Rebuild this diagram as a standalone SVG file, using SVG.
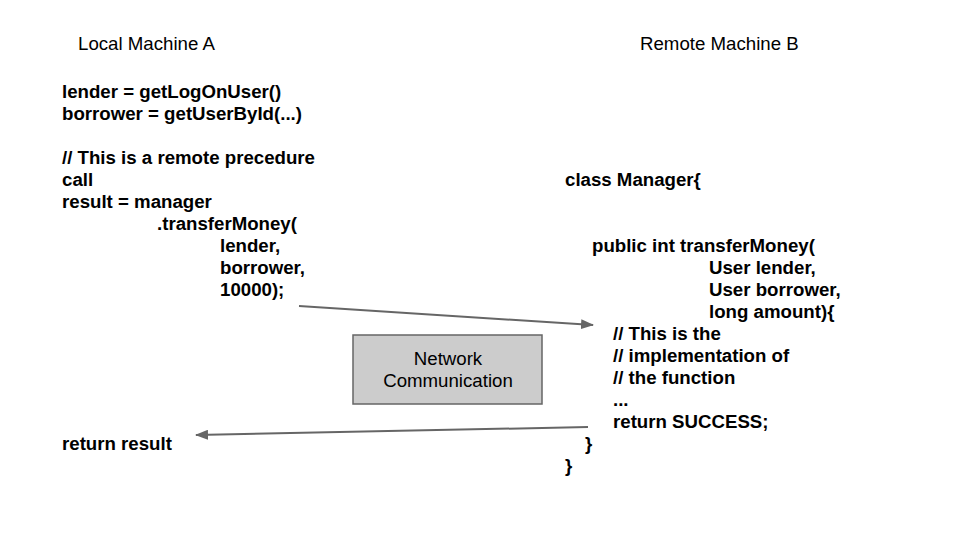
<svg xmlns="http://www.w3.org/2000/svg" width="960" height="540" viewBox="0 0 960 540">
<style>
.t{font-family:"Liberation Sans",Arial,sans-serif;font-size:18.67px;fill:#000}
.b{font-weight:bold}
.c{stroke:#666;stroke-width:2;fill:none}
</style>
<defs>
<marker id="ah" viewBox="0 0 13 10" refX="12" refY="5" markerWidth="6.5" markerHeight="5" orient="auto" markerUnits="strokeWidth">
<path d="M0,0 L13,5 L0,10 z" fill="#666"/>
</marker>
</defs>
<rect width="960" height="540" fill="#fff"/>
<g id="title-a"><text class="t" x="78" y="50">Local Machine A</text></g>
<g id="title-b"><text class="t" x="640" y="50">Remote Machine B</text></g>
<g id="local-code" class="t b">
<text x="62" y="98">lender = getLogOnUser()</text>
<text x="62" y="120">borrower = getUserById(...)</text>
<text x="62" y="164">// This is a remote precedure</text>
<text x="62" y="186">call</text>
<text x="62" y="208">result = manager</text>
<text x="157" y="230">.transferMoney(</text>
<text x="220" y="252">lender,</text>
<text x="220" y="274">borrower,</text>
<text x="220" y="296">10000);</text>
<text x="62" y="450">return result</text>
</g>
<g id="remote-code" class="t b">
<text x="565" y="186">class Manager{</text>
<text x="592" y="252">public int transferMoney(</text>
<text x="709" y="274">User lender,</text>
<text x="709" y="296">User borrower,</text>
<text x="709" y="318">long amount){</text>
<text x="613" y="340">// This is the</text>
<text x="613" y="362">// implementation of</text>
<text x="613" y="384">// the function</text>
<text x="613" y="406">...</text>
<text x="613" y="428">return SUCCESS;</text>
<text x="585" y="450">}</text>
<text x="565" y="472">}</text>
</g>
<g id="network">
<rect x="353" y="335" width="189" height="69" fill="#ccc" stroke="#666" stroke-width="1.5"/>
<text class="t" x="448" y="365" text-anchor="middle" fill="#222">Network</text>
<text class="t" x="448" y="387" text-anchor="middle" fill="#222">Communication</text>
</g>
<g id="connectors">
<line class="c" x1="299" y1="306" x2="593" y2="325" marker-end="url(#ah)"/>
<line class="c" x1="588" y1="427" x2="196" y2="435" marker-end="url(#ah)"/>
</g>
</svg>
